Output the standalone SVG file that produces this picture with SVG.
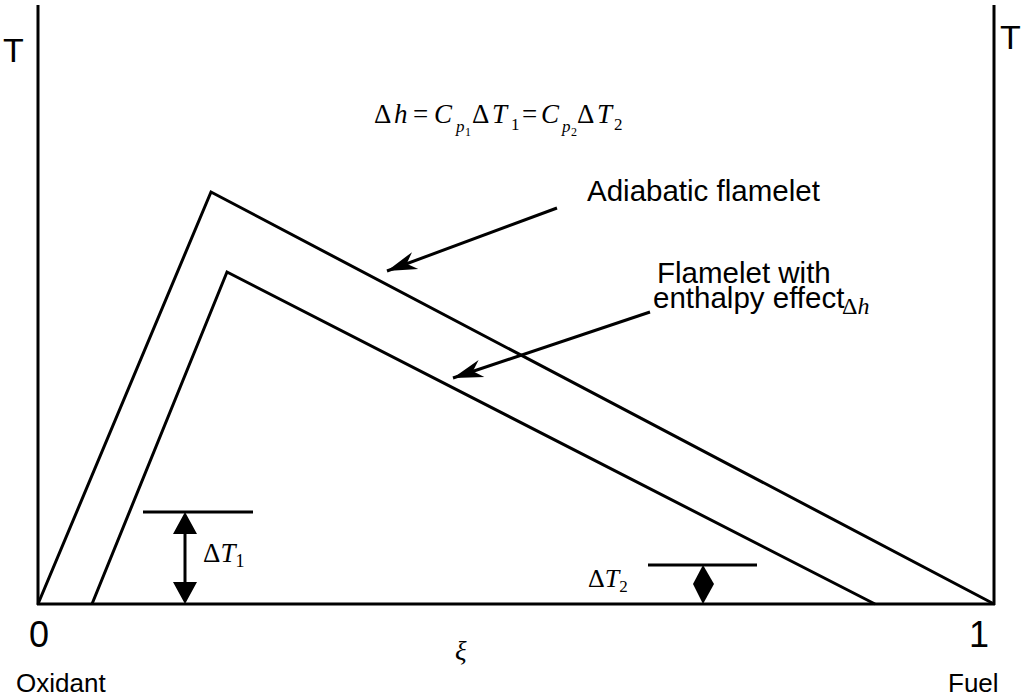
<svg xmlns="http://www.w3.org/2000/svg" width="1024" height="698" viewBox="0 0 1024 698">
<defs>
<style>
.ln{stroke:#000;stroke-width:3;fill:none;stroke-linejoin:miter}
.sans{font-family:"Liberation Sans",Arial,sans-serif;fill:#000}
.ser{font-family:"Liberation Serif","Times New Roman",serif;fill:#000}
.it{font-style:italic}
.eq{font-size:27px}
.sub{font-size:17px}
.ssub{font-size:12px}
</style>
<marker id="barb" viewBox="-32 -10 34 20" refX="0" refY="0" markerWidth="34" markerHeight="20" markerUnits="userSpaceOnUse" orient="auto">
<path d="M0,0 L-30,-9 L-21,0 L-30,9 Z" fill="#000"/>
</marker>
</defs>
<rect width="1024" height="698" fill="#fff"/>
<g id="axes">
<line class="ln" x1="38" y1="5" x2="38" y2="605"/>
<line class="ln" x1="994" y1="5" x2="994" y2="605"/>
<line class="ln" x1="37" y1="604" x2="995" y2="604"/>
</g>
<g id="adiabatic">
<polyline class="ln" points="38,604 211,192 994,604"/>
</g>
<g id="enthalpy">
<polyline class="ln" points="92,604 227,272 875,604"/>
</g>
<g id="connectors">
<line class="ln" x1="557" y1="208" x2="387" y2="271" marker-end="url(#barb)"/>
<line class="ln" x1="650" y1="312" x2="453" y2="378" marker-end="url(#barb)"/>
</g>
<g id="dT1">
<line class="ln" x1="143" y1="512" x2="253" y2="512"/>
<line class="ln" x1="185" y1="530" x2="185" y2="586"/>
<path d="M185,512 L173,534 L197,534 Z M185,604 L173,582 L197,582 Z" fill="#000"/>
<text class="ser" font-size="27" x="203" y="562">Δ<tspan class="it">T</tspan><tspan font-size="18" dy="5">1</tspan></text>
</g>
<g id="dT2">
<line class="ln" x1="648" y1="565" x2="757" y2="565"/>
<path d="M703,565 L693,584 L703,604 L714,584 Z" fill="#000"/>
<text class="ser" font-size="26" x="588" y="587">Δ<tspan class="it">T</tspan><tspan font-size="17" dy="5">2</tspan></text>
</g>
<g id="labels">
<text class="sans" font-size="34" x="3" y="62">T</text>
<text class="sans" font-size="34" x="1000" y="49">T</text>
<text class="sans" font-size="36" x="29" y="647">0</text>
<text class="sans" font-size="36" x="969" y="647">1</text>
<text class="sans" font-size="26" x="16" y="692">Oxidant</text>
<text class="sans" font-size="26" x="948" y="692">Fuel</text>
<text class="ser it" font-size="27" x="455" y="660">ξ</text>
<text class="sans" font-size="29.5" x="587" y="201">Adiabatic flamelet</text>
<text class="sans" font-size="29.5" x="657" y="283">Flamelet with</text>
<text class="sans" font-size="29.5" x="653" y="308">enthalpy effect</text>
<text class="ser" font-size="24" x="842" y="314">Δ<tspan class="it">h</tspan></text>
</g>
<g id="equation" class="ser">
<text class="eq" x="374" y="123">Δ</text>
<text class="eq it" x="394" y="123">h</text>
<text class="eq" x="413" y="123">=</text>
<text class="eq it" x="434" y="123">C</text>
<text class="sub it" x="456" y="132">p</text>
<text class="ssub" x="465" y="136">1</text>
<text class="eq" x="472" y="123">Δ</text>
<text class="eq it" x="492" y="123">T</text>
<text class="sub" x="511" y="130">1</text>
<text class="eq" x="522" y="123">=</text>
<text class="eq it" x="541" y="123">C</text>
<text class="sub it" x="562" y="132">p</text>
<text class="ssub" x="571" y="136">2</text>
<text class="eq" x="577" y="123">Δ</text>
<text class="eq it" x="597" y="123">T</text>
<text class="sub" x="614" y="130">2</text>
</g>
</svg>
